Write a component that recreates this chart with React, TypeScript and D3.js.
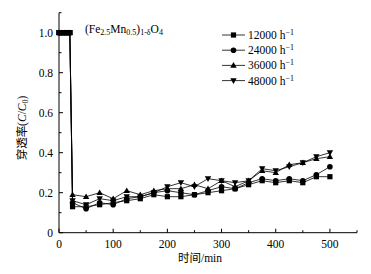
import React from "react";
import * as d3 from "d3";

const startTimes = [0, 5, 10, 15, 20];
const startValues = [1.0, 1.0, 1.0, 1.0, 1.0];
const times = [25, 50, 75, 100, 125, 150, 175, 200, 225, 250, 275, 300, 325, 350, 375, 400, 425, 450, 475, 500];
const s12000 = [0.13, 0.13, 0.14, 0.15, 0.16, 0.17, 0.19, 0.18, 0.18, 0.19, 0.20, 0.21, 0.22, 0.24, 0.26, 0.25, 0.26, 0.25, 0.28, 0.28];
const s24000 = [0.15, 0.12, 0.15, 0.14, 0.17, 0.18, 0.20, 0.21, 0.20, 0.19, 0.21, 0.23, 0.22, 0.25, 0.27, 0.26, 0.27, 0.26, 0.29, 0.33];
const s36000 = [0.19, 0.18, 0.20, 0.17, 0.21, 0.19, 0.21, 0.22, 0.22, 0.24, 0.22, 0.26, 0.23, 0.26, 0.31, 0.30, 0.34, 0.35, 0.37, 0.38];
const s48000 = [0.16, 0.14, 0.17, 0.16, 0.18, 0.18, 0.20, 0.23, 0.25, 0.23, 0.27, 0.26, 0.25, 0.26, 0.32, 0.31, 0.33, 0.35, 0.38, 0.40];
const seriesNames = ["12000", "24000", "36000", "48000"];
const seriesValues = [s12000, s24000, s36000, s48000];
const markerTypes = ["square", "circle", "triangle", "down"];
const xMajorTicks = [0, 100, 200, 300, 400, 500];
const xMinorTicks = [50, 150, 250, 350, 450, 550];
const yMajorTicks = [0, 0.2, 0.4, 0.6, 0.8, 1.0];
const yMinorTicks = [0.1, 0.3, 0.5, 0.7, 0.9, 1.1];

const serif = "'Liberation Serif', 'Times New Roman', serif";
const cjk = "'Noto Sans CJK SC', sans-serif";

function Marker({ type, x, y }: { type: string; x: number; y: number }) {
  const s = 2.6;
  if (type === "square") return <rect x={x - s} y={y - s} width={2 * s} height={2 * s} fill="#000" />;
  if (type === "circle") return <circle cx={x} cy={y} r={2.8} fill="#000" />;
  if (type === "triangle")
    return <path d={`M${x},${y - 3.3}L${x + 3.2},${y + 2.4}L${x - 3.2},${y + 2.4}Z`} fill="#000" />;
  return <path d={`M${x},${y + 3.3}L${x + 3.2},${y - 2.4}L${x - 3.2},${y - 2.4}Z`} fill="#000" />;
}

export default function App() {
  const W = 371, H = 274;
  const x = d3.scaleLinear().domain([0, 550]).range([59, 357]);
  const y = d3.scaleLinear().domain([0, 1.1]).range([232.7, 12.7]);
  const line = d3.line<[number, number]>().x((d) => x(d[0])).y((d) => y(d[1]));
  const x0 = x(0), y0 = y(0);

  return (
    <svg width={W} height={H} style={{ position: "absolute", left: 0, top: 0, background: "#fff" }}>
      {seriesValues.map((vals, i) => {
        const pts: [number, number][] = [
          ...startTimes.map((t, j) => [t, startValues[j]] as [number, number]),
          ...times.map((t, j) => [t, vals[j]] as [number, number]),
        ];
        return (
          <g key={i}>
            <path d={line(pts) || ""} fill="none" stroke="#000" strokeWidth={0.8} />
            {pts.map((p, j) => (
              <Marker key={j} type={markerTypes[i]} x={x(p[0])} y={y(p[1])} />
            ))}
          </g>
        );
      })}
      {/* axes */}
      <line x1={x0} x2={x0} y1={y(1.1)} y2={y0} stroke="#000" strokeWidth={1} />
      <line x1={x0} x2={x(550)} y1={y0} y2={y0} stroke="#000" strokeWidth={1} />
      {yMajorTicks.map((t) => (
        <g key={"ym" + t}>
          <line x1={x0} x2={x0 + 4} y1={y(t)} y2={y(t)} stroke="#000" strokeWidth={1} />
          <text x={x0 - 6} y={y(t) + 4} textAnchor="end" fontFamily={serif} fontSize={11.5}>
            {t === 0 ? "0" : d3.format(".1f")(t)}
          </text>
        </g>
      ))}
      {yMinorTicks.map((t) => (
        <line key={"yn" + t} x1={x0} x2={x0 + 2.5} y1={y(t)} y2={y(t)} stroke="#000" strokeWidth={1} />
      ))}
      {xMajorTicks.map((t) => (
        <g key={"xm" + t}>
          <line x1={x(t)} x2={x(t)} y1={y0} y2={y0 - 4} stroke="#000" strokeWidth={1} />
          <text x={x(t)} y={y0 + 15} textAnchor="middle" fontFamily={serif} fontSize={11.5}>
            {t}
          </text>
        </g>
      ))}
      {xMinorTicks.map((t) => (
        <line key={"xn" + t} x1={x(t)} x2={x(t)} y1={y0} y2={y0 - 2.5} stroke="#000" strokeWidth={1} />
      ))}
      {/* axis titles */}
      <text x={200} y={262} textAnchor="middle" fontSize={11.5}>
        <tspan fontFamily={cjk}>时间</tspan>
        <tspan fontFamily={serif}>/min</tspan>
      </text>
      <text transform="translate(26,128) rotate(-90)" textAnchor="middle" fontSize={11.5}>
        <tspan fontFamily={cjk}>穿透率</tspan>
        <tspan fontFamily={serif}>(</tspan>
        <tspan fontFamily={serif} fontStyle="italic">C</tspan>
        <tspan fontFamily={serif}>/</tspan>
        <tspan fontFamily={serif} fontStyle="italic">C</tspan>
        <tspan fontFamily={serif} fontSize={8} dy={2}>0</tspan>
        <tspan fontFamily={serif} dy={-2}>)</tspan>
      </text>
      {/* annotation */}
      <text x={85} y={33} fontFamily={serif} fontSize={11.5}>
        <tspan>(Fe</tspan>
        <tspan fontSize={8} dy={2}>2.5</tspan>
        <tspan dy={-2}>Mn</tspan>
        <tspan fontSize={8} dy={2}>0.5</tspan>
        <tspan dy={-2}>)</tspan>
        <tspan fontSize={8} dy={2}>1-δ</tspan>
        <tspan dy={-2}>O</tspan>
        <tspan fontSize={8} dy={2}>4</tspan>
      </text>
      {/* legend */}
      {seriesNames.map((n, i) => {
        const ly = 35 + i * 15.2;
        return (
          <g key={n}>
            <line x1={222} x2={245} y1={ly} y2={ly} stroke="#000" strokeWidth={0.8} />
            <Marker type={markerTypes[i]} x={233.5} y={ly} />
            <text x={248} y={ly + 4} fontFamily={serif} fontSize={11.5}>
              {n} h<tspan fontSize={8} dy={-4}>−1</tspan>
            </text>
          </g>
        );
      })}
    </svg>
  );
}
